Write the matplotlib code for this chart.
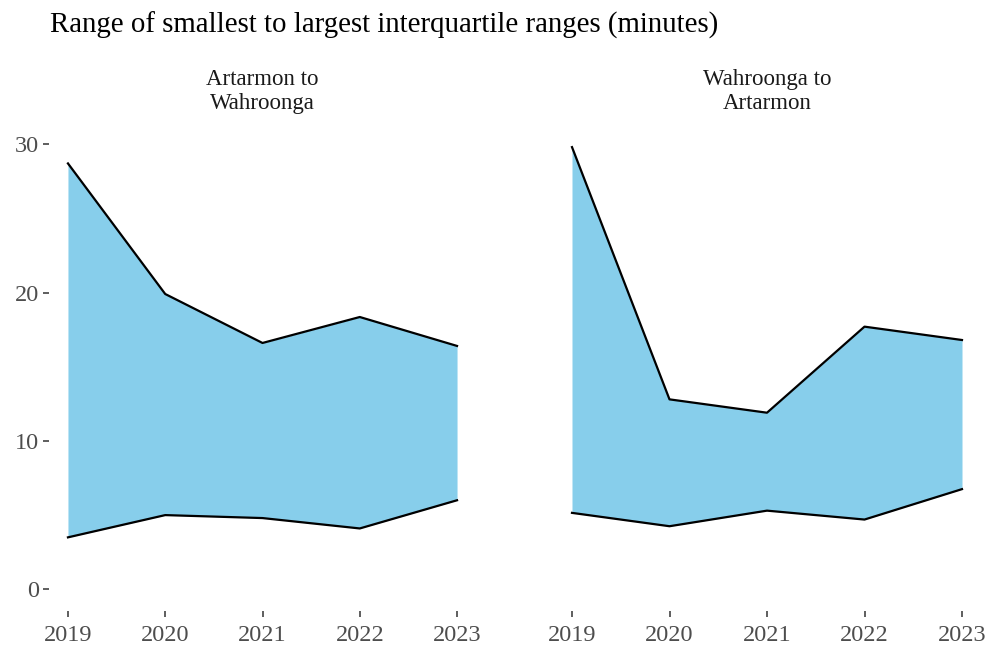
import matplotlib
matplotlib.use("Agg")
import matplotlib.pyplot as plt

years = [2019, 2020, 2021, 2022, 2023]
panels = ["Artarmon to\nWahroonga", "Wahroonga to\nArtarmon"]
low_a = [3.5, 5.0, 4.8, 4.1, 6.0]
high_a = [28.7, 19.9, 16.6, 18.35, 16.4]
low_w = [5.15, 4.25, 5.3, 4.7, 6.75]
high_w = [29.8, 12.8, 11.9, 17.7, 16.8]
lows = [low_a, low_w]
highs = [high_a, high_w]

plt.rcParams['font.family'] = ['Liberation Serif', 'DejaVu Serif']
W, H = 991, 653
fig = plt.figure(figsize=(W / 100, H / 100), dpi=100)

panel_px = [(48.5, 476.5), (552.5, 981.5)]
top_px, bot_px = 125.0, 611.4
ylo, yhi = -1.49, 31.29

for i, (x0, x1) in enumerate(panel_px):
    ax = fig.add_axes([x0 / W, 1 - bot_px / H, (x1 - x0) / W, (bot_px - top_px) / H])
    ax.fill_between(years, lows[i], highs[i], color='#87CEEB', linewidth=0)
    ax.plot(years, highs[i], color='black', lw=1.6)
    ax.plot(years, lows[i], color='black', lw=1.6)
    ax.set_xlim(2018.8, 2023.2)
    ax.set_ylim(ylo, yhi)
    ax.set_xticks(years)
    ax.set_xticklabels([str(y) for y in years])
    for s in ax.spines.values():
        s.set_visible(False)
    ax.tick_params(axis='both', colors='#333333', labelcolor='#4d4d4d',
                   labelsize=17.5, length=4.3, width=1.1, pad=2.5)
    ax.tick_params(axis='x', pad=5.5)
    if i == 0:
        ax.set_yticks([0, 10, 20, 30])
    else:
        ax.set_yticks([])
    ax.set_title(panels[i], fontsize=16.5, color='#1a1a1a', pad=11.5, linespacing=1.18)

fig.text(50 / W, 1 - 25 / H, "Range of smallest to largest interquartile ranges (minutes)",
         fontsize=20.8, color='black', ha='left', va='center')

fig.savefig("out.png", dpi=100, facecolor='white')
